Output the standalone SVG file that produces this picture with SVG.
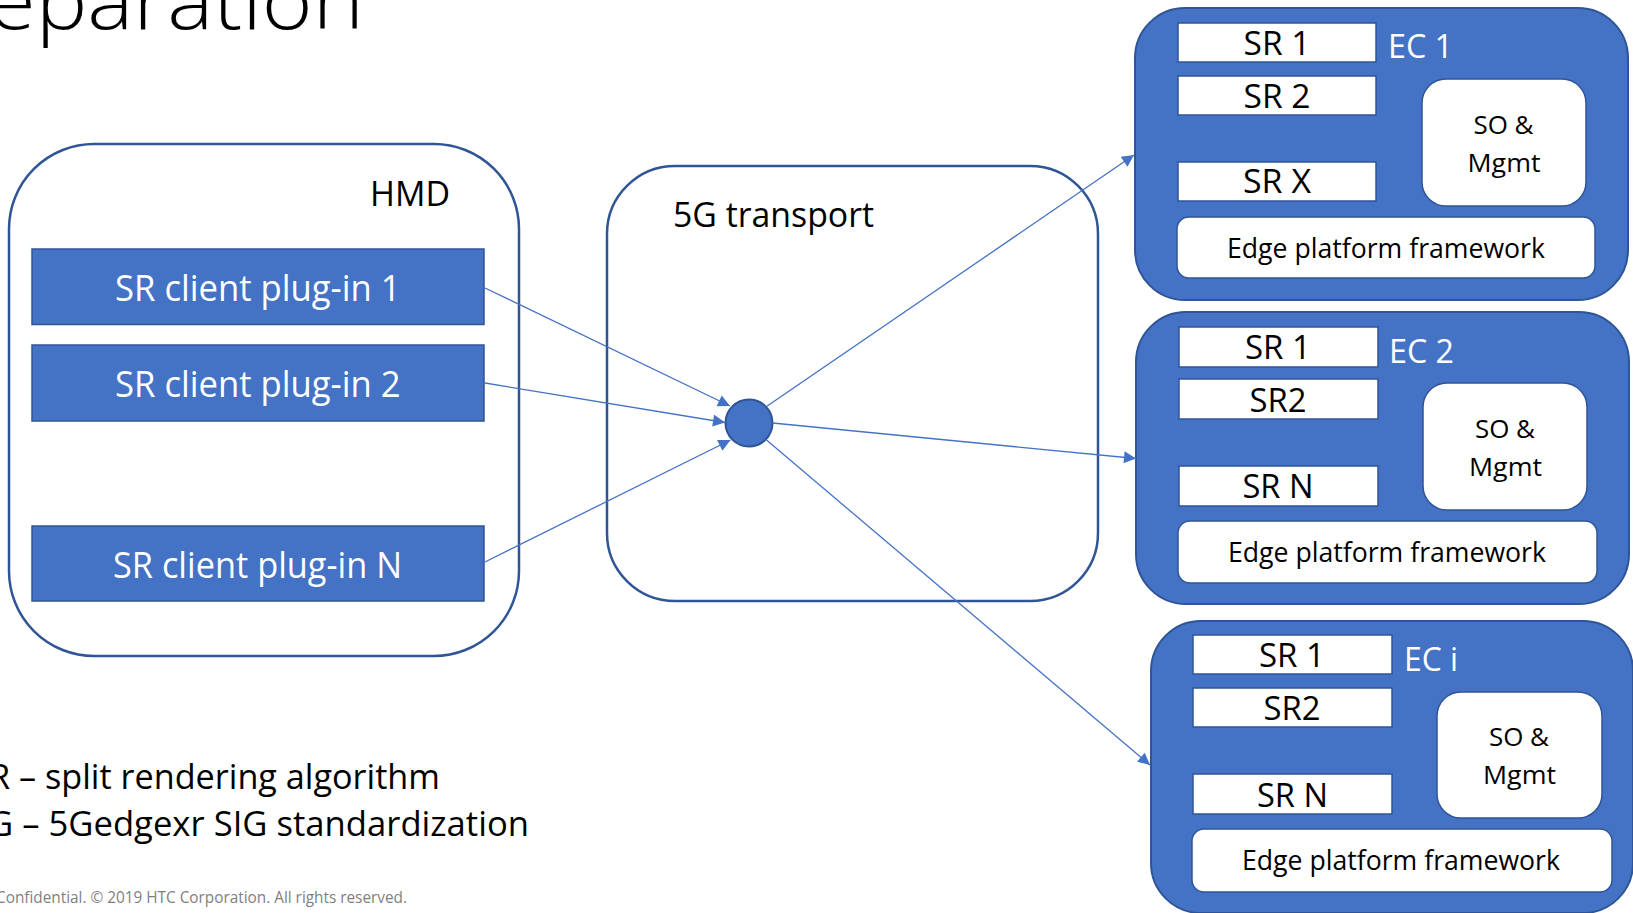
<svg xmlns="http://www.w3.org/2000/svg" width="1633" height="913" viewBox="0 0 1633 913">
<defs>
<style>
text{font-family:"Open Sans","Liberation Sans",sans-serif;}
.cont{fill:#fff;stroke:#2F5597;stroke-width:2.5;}
.plug{fill:#4472C4;stroke:#2F5597;stroke-width:1.5;}
.ec{fill:#4472C4;stroke:#2F5597;stroke-width:2;}
.wbox{fill:#fff;stroke:#2F5597;stroke-width:1.5;}
.conn{stroke:#4472C4;stroke-width:1.3;fill:none;marker-end:url(#arr);}
.blk{fill:#000;}
.wht{fill:#fff;}
.mid{text-anchor:middle;}
</style>
<marker id="arr" viewBox="0 0 10 10" refX="10" refY="5" markerWidth="14" markerHeight="12" markerUnits="userSpaceOnUse" orient="auto">
<path d="M0,0 L10,5 L0,10 z" fill="#4472C4"/>
</marker>
</defs>
<rect width="1633" height="913" fill="#fff"/>

<g id="title">
<text x="-12" y="29" font-size="80" font-weight="300" class="blk" textLength="376" lengthAdjust="spacingAndGlyphs">eparation</text>
</g>

<g id="hmd">
<rect class="cont" x="9" y="144" width="510" height="512" rx="85" ry="85"/>
<text x="370" y="206" font-size="35" class="blk" textLength="80" lengthAdjust="spacingAndGlyphs">HMD</text>
</g>
<g id="plugin1">
<rect class="plug" x="32" y="249" width="452" height="75.5"/>
<text x="115" y="300.5" font-size="36" class="wht" textLength="285.5" lengthAdjust="spacingAndGlyphs">SR client plug-in 1</text>
</g>
<g id="plugin2">
<rect class="plug" x="32" y="345" width="452" height="76"/>
<text x="115" y="397" font-size="36" class="wht" textLength="285.5" lengthAdjust="spacingAndGlyphs">SR client plug-in 2</text>
</g>
<g id="pluginN">
<rect class="plug" x="32" y="526" width="452" height="75"/>
<text x="113" y="577.5" font-size="36" class="wht" textLength="289" lengthAdjust="spacingAndGlyphs">SR client plug-in N</text>
</g>

<g id="transport">
<rect class="cont" x="607" y="166" width="491" height="435" rx="68" ry="68"/>
<text x="673" y="227" font-size="35" class="blk" textLength="201" lengthAdjust="spacingAndGlyphs">5G transport</text>
</g>
<g id="hub">
<circle cx="749" cy="423" r="23.5" fill="#4472C4" stroke="#2F5597" stroke-width="2"/>
</g>

<g id="ec1">
<rect class="ec" x="1135" y="8" width="493" height="292" rx="50" ry="50"/>
<rect class="wbox" x="1178" y="23" width="198" height="39"/>
<text x="1277" y="55" font-size="33.5" class="blk mid" textLength="67" lengthAdjust="spacingAndGlyphs">SR 1</text>
<rect class="wbox" x="1178" y="76" width="198" height="39"/>
<text x="1277" y="108" font-size="33.5" class="blk mid" textLength="67" lengthAdjust="spacingAndGlyphs">SR 2</text>
<rect class="wbox" x="1178" y="162" width="198" height="39"/>
<text x="1277" y="193" font-size="33.5" class="blk mid" textLength="68" lengthAdjust="spacingAndGlyphs">SR X</text>
<text x="1388" y="58" font-size="33" class="wht" textLength="65" lengthAdjust="spacingAndGlyphs">EC 1</text>
<rect class="wbox" x="1422" y="79" width="164" height="127" rx="24" ry="24"/>
<text x="1503.5" y="134" font-size="26" class="blk mid" textLength="60" lengthAdjust="spacingAndGlyphs">SO &amp;</text>
<text x="1504" y="171.5" font-size="26" class="blk mid" textLength="73" lengthAdjust="spacingAndGlyphs">Mgmt</text>
<rect class="wbox" x="1177" y="217" width="418" height="61" rx="12" ry="12"/>
<text x="1386" y="257.5" font-size="27" class="blk mid" textLength="318" lengthAdjust="spacingAndGlyphs">Edge platform framework</text>
</g>

<g id="ec2">
<rect class="ec" x="1136" y="312" width="493" height="292" rx="50" ry="50"/>
<rect class="wbox" x="1179" y="327" width="199" height="40"/>
<text x="1278" y="359" font-size="33.5" class="blk mid" textLength="66" lengthAdjust="spacingAndGlyphs">SR 1</text>
<rect class="wbox" x="1179" y="379" width="199" height="40"/>
<text x="1278" y="412" font-size="33.5" class="blk mid" textLength="57" lengthAdjust="spacingAndGlyphs">SR2</text>
<rect class="wbox" x="1179" y="466" width="199" height="40"/>
<text x="1278" y="498" font-size="33.5" class="blk mid" textLength="71" lengthAdjust="spacingAndGlyphs">SR N</text>
<text x="1389" y="363" font-size="33" class="wht" textLength="65" lengthAdjust="spacingAndGlyphs">EC 2</text>
<rect class="wbox" x="1423" y="383" width="164" height="127" rx="24" ry="24"/>
<text x="1505" y="438" font-size="26" class="blk mid" textLength="60" lengthAdjust="spacingAndGlyphs">SO &amp;</text>
<text x="1505.5" y="475.5" font-size="26" class="blk mid" textLength="73" lengthAdjust="spacingAndGlyphs">Mgmt</text>
<rect class="wbox" x="1178" y="521" width="419" height="62" rx="12" ry="12"/>
<text x="1387" y="561.5" font-size="27" class="blk mid" textLength="318" lengthAdjust="spacingAndGlyphs">Edge platform framework</text>
</g>

<g id="eci">
<rect class="ec" x="1151" y="621" width="482" height="292" rx="50" ry="50"/>
<rect class="wbox" x="1193" y="635" width="199" height="39"/>
<text x="1292" y="667" font-size="33.5" class="blk mid" textLength="66" lengthAdjust="spacingAndGlyphs">SR 1</text>
<rect class="wbox" x="1193" y="688" width="199" height="39"/>
<text x="1292" y="720" font-size="33.5" class="blk mid" textLength="57" lengthAdjust="spacingAndGlyphs">SR2</text>
<rect class="wbox" x="1193" y="774" width="199" height="40"/>
<text x="1292.5" y="806.5" font-size="33.5" class="blk mid" textLength="71" lengthAdjust="spacingAndGlyphs">SR N</text>
<text x="1404" y="671" font-size="33" class="wht" textLength="54" lengthAdjust="spacingAndGlyphs">EC i</text>
<rect class="wbox" x="1437" y="692" width="165" height="126" rx="24" ry="24"/>
<text x="1519" y="746" font-size="26" class="blk mid" textLength="60" lengthAdjust="spacingAndGlyphs">SO &amp;</text>
<text x="1519.5" y="783.5" font-size="26" class="blk mid" textLength="73" lengthAdjust="spacingAndGlyphs">Mgmt</text>
<rect class="wbox" x="1192" y="829" width="420" height="63" rx="12" ry="12"/>
<text x="1401" y="870" font-size="27" class="blk mid" textLength="318" lengthAdjust="spacingAndGlyphs">Edge platform framework</text>
</g>

<g id="connectors">
<line class="conn" x1="485" y1="288" x2="730" y2="406"/>
<line class="conn" x1="485" y1="383" x2="725" y2="422.5"/>
<line class="conn" x1="485" y1="562" x2="730.5" y2="440"/>
<line class="conn" x1="766.5" y1="406.5" x2="1134" y2="155"/>
<line class="conn" x1="772.5" y1="423" x2="1136" y2="458.5"/>
<line class="conn" x1="766.5" y1="440" x2="1150" y2="765"/>
</g>

<g id="notes">
<text x="-11" y="789" font-size="34" class="blk" textLength="451" lengthAdjust="spacingAndGlyphs">R – split rendering algorithm</text>
<text x="-12" y="836" font-size="34" class="blk" textLength="541" lengthAdjust="spacingAndGlyphs">G – 5Gedgexr SIG standardization</text>
<text x="-4" y="903" font-size="16.5" fill="#7F7F7F" textLength="411" lengthAdjust="spacingAndGlyphs">Confidential. © 2019 HTC Corporation. All rights reserved.</text>
</g>
</svg>
